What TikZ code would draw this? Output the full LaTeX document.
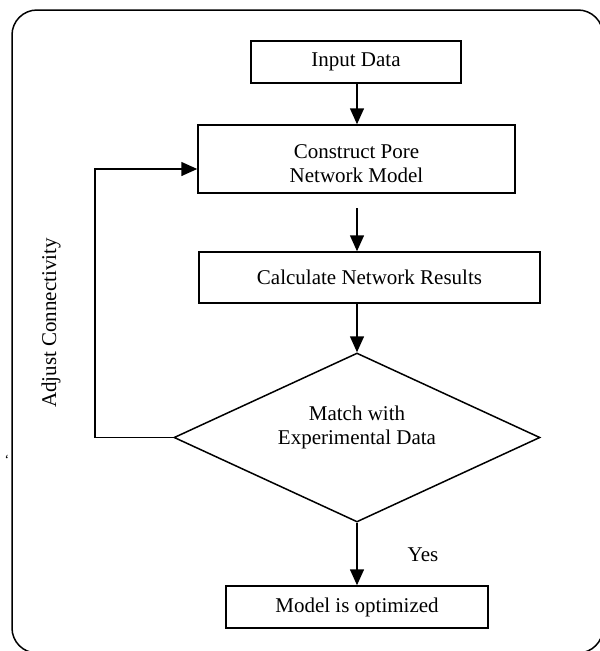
\documentclass[tikz,border=0pt]{standalone}
\usepackage{fontspec}
\setmainfont{Liberation Serif}
\usetikzlibrary{shapes.geometric,arrows.meta,calc}
\begin{document}
\begin{tikzpicture}[x=1pt,y=-1pt, line width=1.5pt,
  box/.style={draw, rectangle, inner sep=0pt},
  lbl/.style={font=\fontsize{21}{24}\selectfont, align=center, inner sep=0pt},
  arr/.style={-{Triangle[length=16pt,width=14pt]}}]
\useasboundingbox (0,0) rectangle (600,651);
\begin{scope}
\clip (0,0) rectangle (600,651);
\draw[rounded corners=25pt] (12,10) rectangle (603,653);
\end{scope}
% boxes
\node[box, lbl, minimum width=210pt, minimum height=42pt] (input) at (356,62) {Input Data};
\node[box, minimum width=317pt, minimum height=68pt] (construct) at (356.5,159) {};
\node[lbl] (tconstruct) at (356.5,164) {Construct Pore\\Network Model};
\node[box, lbl, minimum width=341pt, minimum height=51pt] (calc) at (369.5,277.5) {Calculate Network Results};
\node[draw, diamond, minimum width=366pt, minimum height=169pt, inner sep=0pt] (dia) at (357,437.5) {};
\node[lbl] (tdia) at (357,427) {Match with\\Experimental Data};
\node[box, lbl, minimum width=262pt, minimum height=42pt] (model) at (357,607) {Model is optimized};
% labels
\node[lbl] (yes) at (423,555) {Yes};
\node[lbl, rotate=90] (adjust) at (51,323) {Adjust Connectivity};
\node[lbl, font=\fontsize{14}{14}\selectfont] (mark) at (7,460) {`};
% connectors
\coordinate (c1) at (357,208);
\coordinate (fb) at (95,169);
\draw[arr] (input.south -| dia.north) -- (construct.north -| dia.north);
\draw[arr] (c1) -- (c1 |- calc.north);
\draw[arr] (calc.south -| dia.north) -- (dia.north);
\draw[arr] (dia.south) -- (model.north);
\draw[arr] (dia.west) -| (fb) -- (fb -| construct.west);
\end{tikzpicture}
\end{document}
